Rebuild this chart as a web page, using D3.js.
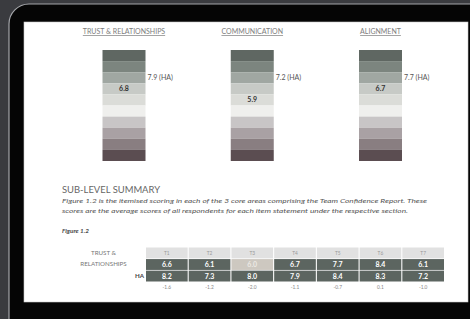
<!DOCTYPE html>
<html>
<head>
<meta charset="utf-8">
<script src="https://cdn.jsdelivr.net/npm/d3@7"></script>
<style>
  html, body { margin: 0; padding: 0; background: #3a3b3f; }
  svg { display: block; font-family: Lato, "Open Sans", sans-serif; }
</style>
</head>
<body>
<svg id="chart" width="470" height="319"></svg>
<script>
// core areas (top gauges)
var areas = ['TRUST & RELATIONSHIPS', 'COMMUNICATION', 'ALIGNMENT'];
var areaScores = [6.8, 5.9, 6.7];
var areaHA = [7.9, 7.2, 7.7];
// gauge bands, 10 -> 0
var bandColors = ['#5f6762', '#7c857f', '#a0a7a2', '#c7cac6', '#dbdcd8',
                  '#efefed', '#c8c5c6', '#a9a1a4', '#897e81', '#5b4d51'];

// sub-level table
var items = ['T1', 'T2', 'T3', 'T4', 'T5', 'T6', 'T7'];
var itemScores = [6.6, 6.1, 6.0, 6.7, 7.7, 8.4, 6.1];
var itemHA = [8.2, 7.3, 8.0, 7.9, 8.4, 8.3, 7.2];
var itemDiff = ['-1.6', '-1.2', '-2.0', '-1.1', '-0.7', '0.1', '-1.0'];

var svg = d3.select('#chart');

// laptop bezel + page
svg.append('rect').attr('width', 470).attr('height', 319).attr('fill', '#3a3b3f');
svg.append('rect')
    .attr('x', 9).attr('y', 4).attr('width', 480).attr('height', 340)
    .attr('rx', 20)
    .attr('fill', '#050505')
    .attr('stroke', '#a4a6aa').attr('stroke-width', 1.2);
svg.append('rect')
    .attr('x', 24).attr('y', 22).attr('width', 444).attr('height', 280)
    .attr('fill', '#ffffff')
    .attr('stroke', '#c9c9c9').attr('stroke-width', 0.6);

// gauges
var x = d3.scalePoint().domain(areas).range([124, 380.5]);
var y = d3.scaleLinear().domain([0, 10]).range([161, 50]);
var barW = 43;
var bands = d3.range(10, 0, -1); // upper bound of each band

var gauge = svg.selectAll('.gauge')
    .data(areas)
    .enter().append('g')
    .attr('class', 'gauge')
    .attr('transform', function (d) { return 'translate(' + x(d) + ',0)'; });

gauge.append('text')
    .attr('y', 34)
    .attr('text-anchor', 'middle')
    .attr('font-size', 7)
    .attr('fill', '#7d7d7d')
    .attr('text-decoration', 'underline')
    .text(function (d) { return d; });

gauge.selectAll('rect')
    .data(bands)
    .enter().append('rect')
    .attr('x', -barW / 2)
    .attr('width', barW)
    .attr('y', function (d) { return y(d); })
    .attr('height', function (d) { return y(d - 1) - y(d); })
    .attr('fill', function (d, i) { return bandColors[i]; });

// average score inside the bar, HA to the right
gauge.append('text')
    .attr('y', function (d, i) { return y(Math.floor(areaScores[i]) + 0.5) + 2.5; })
    .attr('text-anchor', 'middle')
    .attr('font-size', 7)
    .attr('font-weight', 'bold')
    .attr('fill', '#333')
    .text(function (d, i) { return areaScores[i].toFixed(1); });

gauge.append('text')
    .attr('x', barW / 2 + 2)
    .attr('y', function (d, i) { return y(Math.floor(areaHA[i]) + 0.5) + 2.5; })
    .attr('font-size', 7)
    .attr('fill', '#555')
    .text(function (d, i) { return areaHA[i].toFixed(1) + ' (HA)'; });

// summary text
svg.append('text')
    .attr('x', 62).attr('y', 193)
    .attr('font-size', 9.5)
    .attr('fill', '#666')
    .attr('textLength', 98).attr('lengthAdjust', 'spacingAndGlyphs')
    .text('SUB-LEVEL SUMMARY');
svg.append('text')
    .attr('x', 62).attr('y', 203)
    .attr('font-size', 6.3).attr('font-style', 'italic')
    .attr('fill', '#555')
    .attr('textLength', 365).attr('lengthAdjust', 'spacingAndGlyphs')
    .text('Figure 1.2 is the itemised scoring in each of the 3 core areas comprising the Team Confidence Report. These');
svg.append('text')
    .attr('x', 62).attr('y', 213)
    .attr('font-size', 6.3).attr('font-style', 'italic')
    .attr('fill', '#555')
    .attr('textLength', 346).attr('lengthAdjust', 'spacingAndGlyphs')
    .text('scores are the average scores of all respondents for each item statement under the respective section.');
svg.append('text')
    .attr('x', 62).attr('y', 233)
    .attr('font-size', 6.3).attr('font-style', 'italic').attr('font-weight', 'bold')
    .attr('fill', '#444')
    .text('Figure 1.2');

// table
var cx = d3.scaleBand().domain(items).range([146, 444]).paddingInner(0.025);
var rows = d3.scaleBand().domain(['head', 'score', 'ha']).range([247.5, 281.5]).paddingInner(0.06);
var minScore = d3.min(itemScores);

svg.append('text')
    .attr('x', 103.5).attr('y', 254.5)
    .attr('text-anchor', 'middle').attr('font-size', 6.2).attr('fill', '#777')
    .text('TRUST &');
svg.append('text')
    .attr('x', 103.5).attr('y', 266)
    .attr('text-anchor', 'middle').attr('font-size', 6.2).attr('fill', '#777')
    .text('RELATIONSHIPS');
svg.append('text')
    .attr('x', 144).attr('y', rows('ha') + rows.bandwidth() / 2 + 2.3)
    .attr('text-anchor', 'end').attr('font-size', 6.2).attr('font-weight', 'bold').attr('fill', '#444')
    .text('HA');

var col = svg.selectAll('.col')
    .data(items)
    .enter().append('g')
    .attr('class', 'col')
    .attr('transform', function (d) { return 'translate(' + cx(d) + ',0)'; });

col.append('rect')
    .attr('y', rows('head')).attr('width', cx.bandwidth()).attr('height', rows.bandwidth())
    .attr('fill', '#e1e1e1');
col.append('text')
    .attr('x', cx.bandwidth() / 2).attr('y', rows('head') + rows.bandwidth() / 2 + 1.7)
    .attr('text-anchor', 'middle').attr('font-size', 4.8).attr('fill', '#999')
    .text(function (d) { return d; });

col.append('rect')
    .attr('y', rows('score')).attr('width', cx.bandwidth()).attr('height', rows.bandwidth())
    .attr('fill', function (d, i) { return itemScores[i] === minScore ? '#cdc8c0' : '#5c6560'; });
col.append('text')
    .attr('x', cx.bandwidth() / 2).attr('y', rows('score') + rows.bandwidth() / 2 + 2.5)
    .attr('text-anchor', 'middle').attr('font-size', 7).attr('font-weight', 'bold')
    .attr('fill', function (d, i) { return itemScores[i] === minScore ? '#ece9e4' : '#fff'; })
    .text(function (d, i) { return itemScores[i].toFixed(1); });

col.append('rect')
    .attr('y', rows('ha')).attr('width', cx.bandwidth()).attr('height', rows.bandwidth())
    .attr('fill', '#5c6560');
col.append('text')
    .attr('x', cx.bandwidth() / 2).attr('y', rows('ha') + rows.bandwidth() / 2 + 2.5)
    .attr('text-anchor', 'middle').attr('font-size', 7).attr('font-weight', 'bold')
    .attr('fill', '#fff')
    .text(function (d, i) { return itemHA[i].toFixed(1); });

col.append('text')
    .attr('x', cx.bandwidth() / 2).attr('y', 288.5)
    .attr('text-anchor', 'middle').attr('font-size', 4.8).attr('fill', '#888')
    .text(function (d, i) { return itemDiff[i]; });
</script>
</body>
</html>
